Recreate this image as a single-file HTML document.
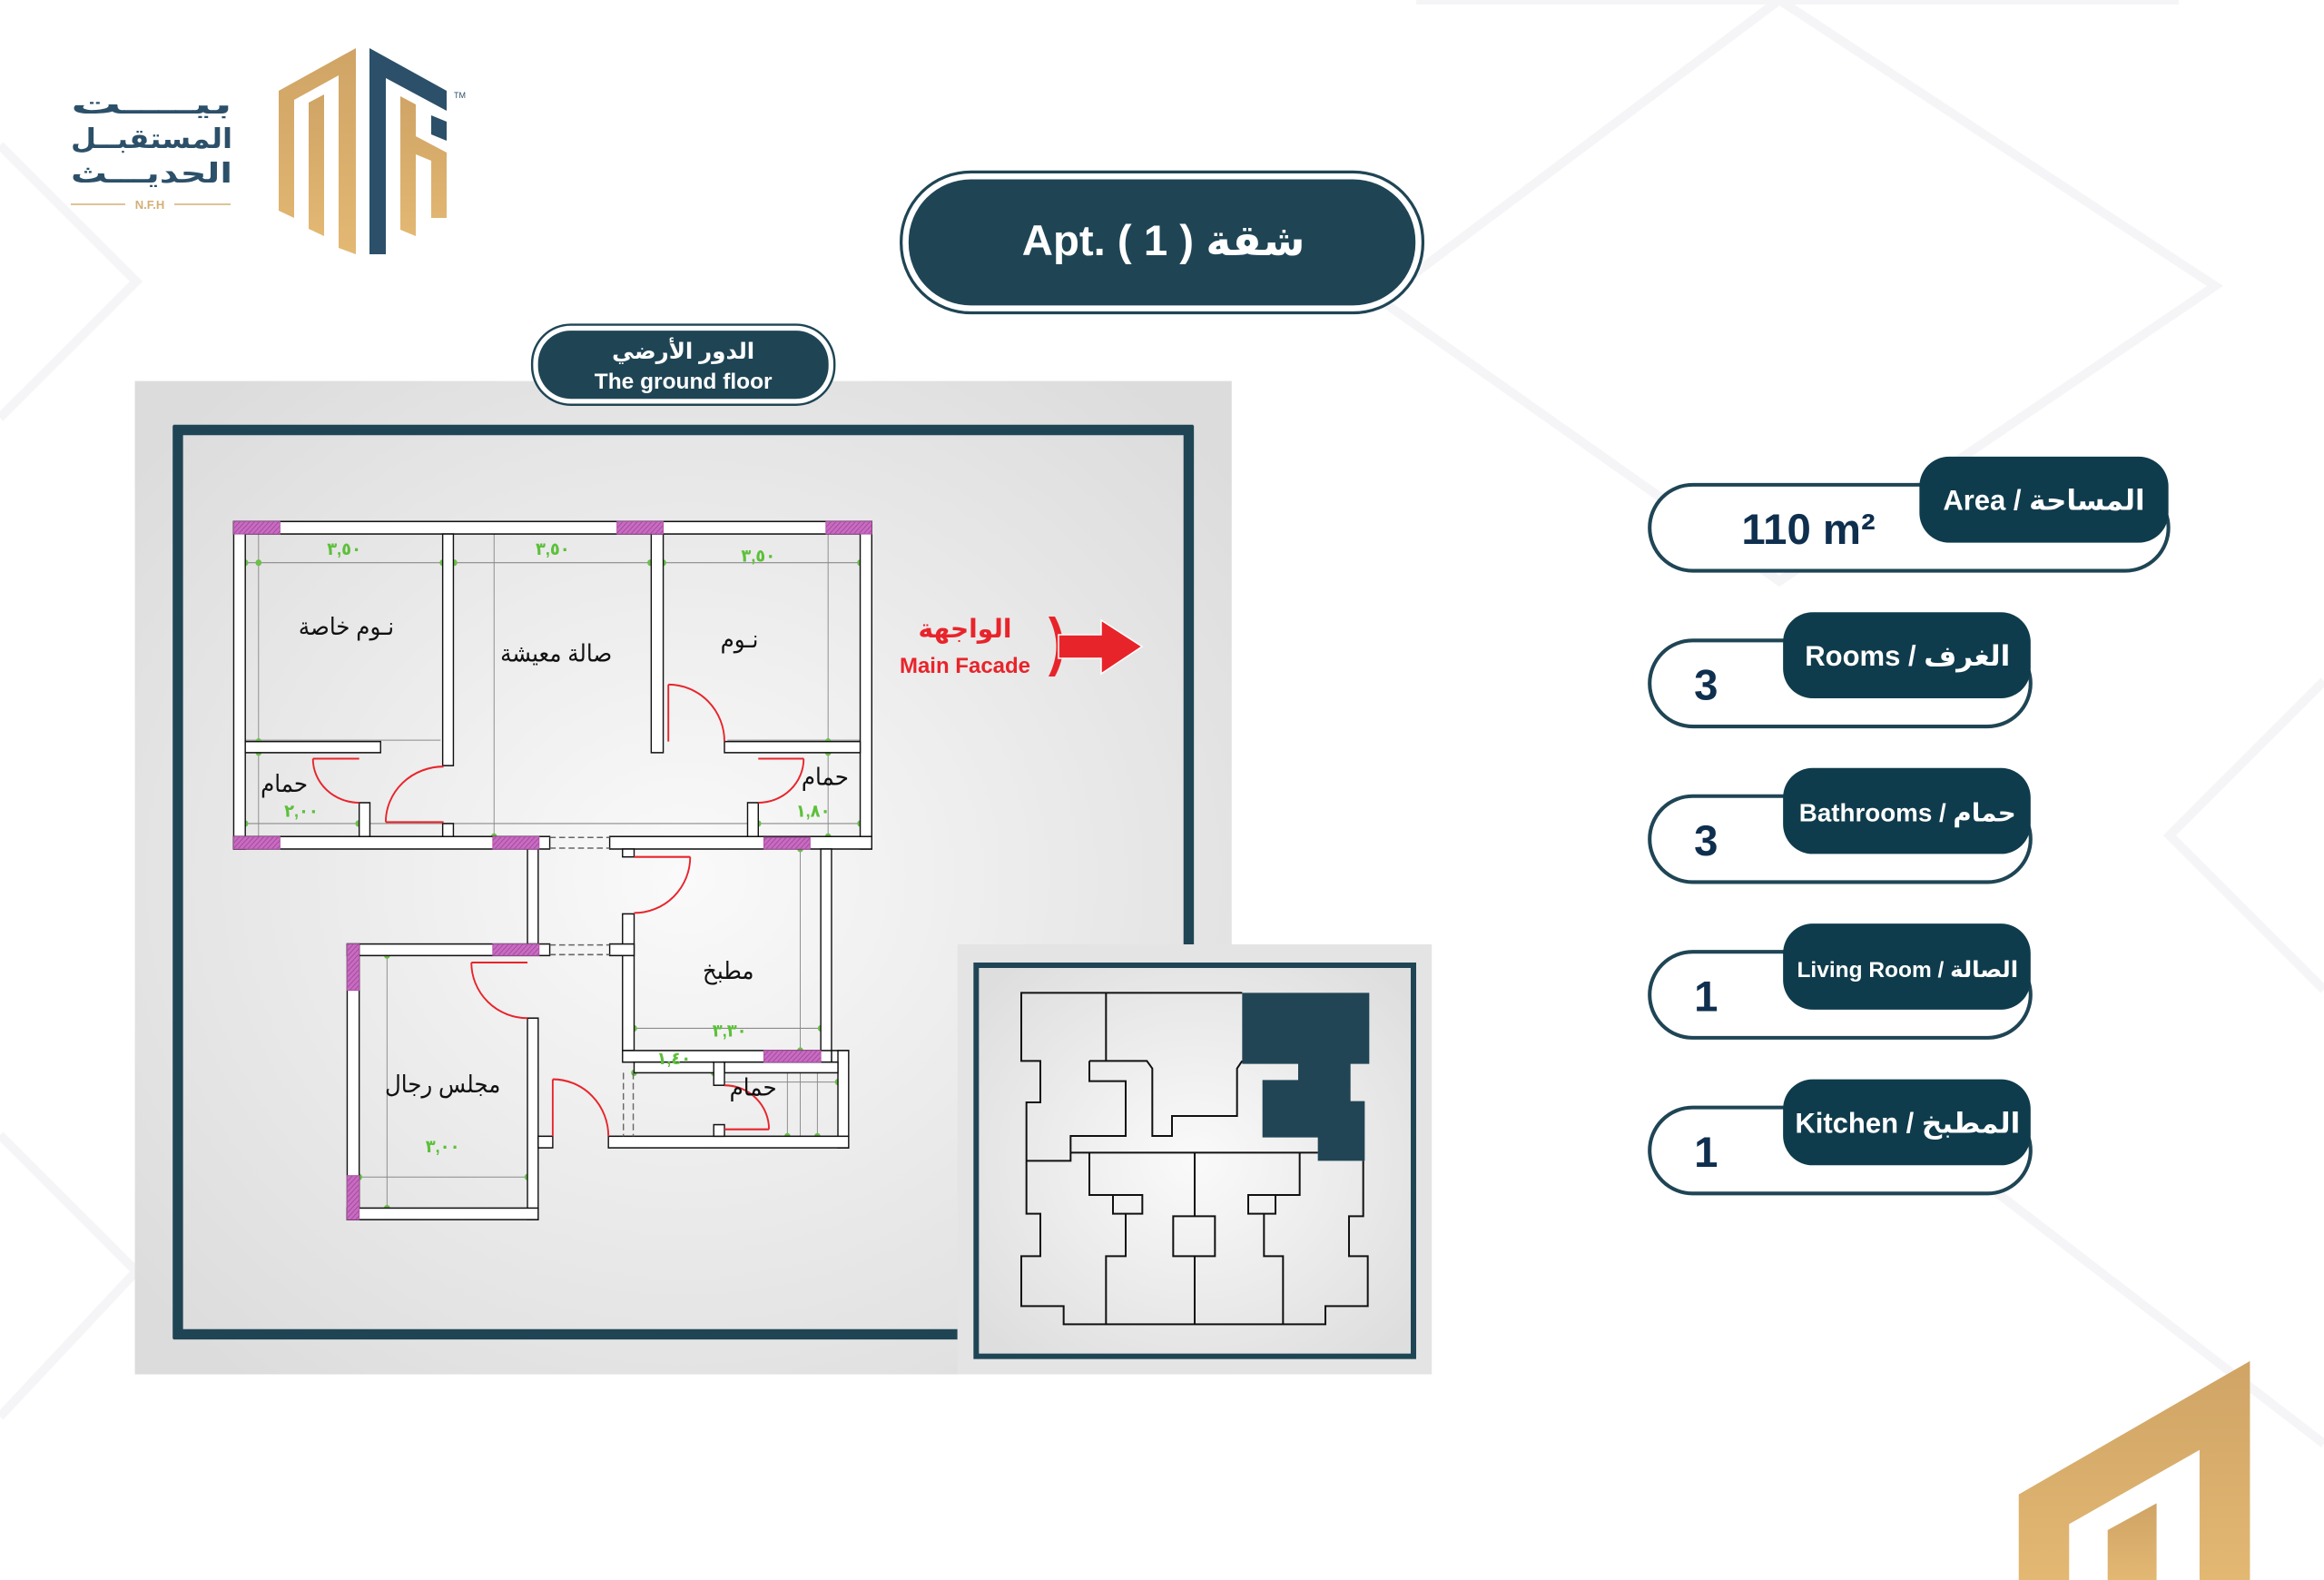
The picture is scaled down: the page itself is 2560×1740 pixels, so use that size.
<!DOCTYPE html>
<html><head><meta charset="utf-8"><style>
html,body{margin:0;padding:0;background:#fff;}
svg{display:block}
text{font-family:"Liberation Sans","Noto Sans CJK SC","DejaVu Sans",sans-serif;}
</style></head><body>
<svg width="2560" height="1740" viewBox="0 0 2560 1740" xmlns="http://www.w3.org/2000/svg">
<defs>
<radialGradient id="pg" cx="50%" cy="50%" r="65%"><stop offset="0" stop-color="#fafafa"/><stop offset="1" stop-color="#dcdcdc"/></radialGradient>
<radialGradient id="kg" cx="50%" cy="50%" r="65%"><stop offset="0" stop-color="#fafafa"/><stop offset="1" stop-color="#dedede"/></radialGradient>
<pattern id="hatch" width="8" height="8" patternUnits="userSpaceOnUse" patternTransform="rotate(45)"><rect width="8" height="8" fill="#c76cc0"/><line x1="0" y1="0" x2="0" y2="8" stroke="#9a3f95" stroke-width="3"/></pattern>
<linearGradient id="gold" x1="0" y1="0" x2="0" y2="1"><stop offset="0" stop-color="#cfa465"/><stop offset="1" stop-color="#e3b873"/></linearGradient>
</defs>
<rect width="2560" height="1740" fill="#fff"/>
<g stroke="#f5f5f7" stroke-width="10" fill="none">
<polyline points="0,160 150,310 0,460"/>
<polyline points="0,1250 150,1400 0,1560"/>
<polyline points="1960,0 2440,315 1960,640 1520,330 1960,0"/>
<polyline points="2560,750 2390,920 2560,1090"/>
<polyline points="1560,0 2400,0"/>
<line x1="2130" y1="1260" x2="2560" y2="1590"/>
</g>
<g transform="scale(1.6327)">
<rect x="608" y="116" width="352" height="95" rx="47" fill="#fff" stroke="#1f4555" stroke-width="2"/>
<rect x="613" y="121" width="342" height="85" rx="42" fill="#1f4555"/>
<text x="785" y="172" font-size="29" font-weight="bold" fill="#fff" text-anchor="middle" direction="ltr">Apt. ( 1 ) شقة</text>
<rect x="91" y="257" width="740" height="670" fill="url(#pg)"/>
<g stroke="#1f4555" stroke-width="7" fill="none">
<line x1="120" y1="287" x2="120" y2="903"/>
<line x1="117" y1="290" x2="805" y2="290"/>
<line x1="802" y1="287" x2="802" y2="637"/>
<line x1="117" y1="900" x2="646" y2="900"/>
</g>
<rect x="359" y="219" width="204" height="54" rx="26" fill="#fff" stroke="#1f4555" stroke-width="1.5"/>
<rect x="363" y="223" width="196" height="46" rx="22" fill="#1f4555"/>
<text x="461" y="242" font-size="15" font-weight="bold" fill="#fff" text-anchor="middle">الدور الأرضي</text>
<text x="461" y="262" font-size="15" font-weight="bold" fill="#fff" text-anchor="middle">The ground floor</text>
<rect x="646" y="637" width="320" height="290" fill="#e4e4e4"/>
<g fill="#fff" stroke="#1f4555" stroke-width="2.5">
<rect x="1113" y="327" width="350" height="58" rx="29"/>
<rect x="1113" y="432" width="257" height="58" rx="29"/>
<rect x="1113" y="537" width="257" height="58" rx="29"/>
<rect x="1113" y="642" width="257" height="58" rx="29"/>
<rect x="1113" y="747" width="257" height="58" rx="29"/>
</g>
<g fill="#0f3c4c">
<rect x="1295" y="308" width="168" height="58" rx="20"/>
<rect x="1203" y="413" width="167" height="58" rx="20"/>
<rect x="1203" y="518" width="167" height="58" rx="20"/>
<rect x="1203" y="623" width="167" height="58" rx="20"/>
<rect x="1203" y="728" width="167" height="58" rx="20"/>
</g>
<g fill="#fff" font-weight="bold" text-anchor="middle" direction="ltr">
<text x="1379" y="344" font-size="19">Area / المساحة</text>
<text x="1287" y="449" font-size="19">Rooms / الغرف</text>
<text x="1287" y="554" font-size="17">Bathrooms / حمام</text>
<text x="1287" y="659" font-size="15">Living Room / الصالة</text>
<text x="1287" y="764" font-size="19">Kitchen / المطبخ</text>
</g>
<g fill="#0f2f4f" font-weight="bold" font-size="29">
<text x="1175" y="367">110 m²</text>
<text x="1143" y="472">3</text>
<text x="1143" y="577">3</text>
<text x="1143" y="682">1</text>
<text x="1143" y="787">1</text>
</g>
<polygon points="1362,1066 1362,1008 1518,918 1518,1066" fill="url(#gold)"/>
<polygon points="1396,1066 1396,1028 1484,978 1484,1066" fill="#fff"/>
<polygon points="1422,1066 1422,1032 1455,1014 1455,1066" fill="url(#gold)"/>
</g>

<g>
<polygon points="307,100 392,53 392,280 373,273 373,83 324,110 324,240 307,232" fill="url(#gold)"/>
<polygon points="340,113 357,104 357,260 340,252" fill="url(#gold)"/>
<polygon points="407,53 492,100 492,122 425,86 425,280 407,280" fill="#2c5069"/>
<polygon points="475,127 492,134 492,155 475,148" fill="#2c5069"/>
<polygon points="441,106 458,115 458,150 492,168 492,240 475,240 475,177 458,170 458,260 441,253" fill="url(#gold)"/>
<text x="500" y="108" font-size="9" fill="#2c5069">TM</text>
<g fill="#2c5069" font-weight="bold" text-anchor="end" font-size="30">
<text x="256" y="125" textLength="178" lengthAdjust="spacingAndGlyphs">بيــــت</text>
<text x="256" y="163" textLength="178" lengthAdjust="spacingAndGlyphs">المستقبــل</text>
<text x="256" y="201" textLength="178" lengthAdjust="spacingAndGlyphs">الحديـــث</text>
</g>
<line x1="78" y1="225" x2="138" y2="225" stroke="#d4af77" stroke-width="1.5"/>
<line x1="192" y1="225" x2="254" y2="225" stroke="#d4af77" stroke-width="1.5"/>
<text x="165" y="230" font-size="13" font-weight="bold" fill="#d4af77" text-anchor="middle">N.F.H</text>
</g>

<text x="1063" y="702" font-size="28" font-weight="bold" fill="#e8242b" text-anchor="middle">الواجهة</text>
<text x="1063" y="741" font-size="24" font-weight="bold" fill="#e8242b" text-anchor="middle">Main Facade</text>
<path d="M1155,679 Q1172,712 1155,745 L1162,745 Q1180,712 1162,679 Z" fill="#e8242b"/>
<polygon points="1166,699 1213,699 1213,683 1258,712 1213,742 1213,725 1166,725" fill="#e8242b" stroke="#fff" stroke-width="1.5"/>

<g transform="translate(1060,1050) scale(0.33333)">
<rect x="46" y="39" width="1445" height="1292" fill="url(#kg)" stroke="#1f4555" stroke-width="18"/>
<polygon points="925,130 1345,130 1345,365 1283,365 1283,488 1330,488 1330,685 1175,685 1175,608 992,608 992,418 1110,418 1110,365 925,365" fill="#214555"/>
<g fill="none" stroke="#111" stroke-width="6">
<polyline points="925,130 195,130 195,355 258,355 258,492 212,492 212,860 258,860 258,1000 195,1000 195,1165 335,1165 335,1225 1200,1225 1200,1165 1340,1165 1340,1000 1278,1000 1278,868 1325,868 1325,685"/>
<polyline points="475,130 475,355"/>
<polyline points="420,355 610,355 628,380 628,603 693,603 693,537 908,537 908,380 925,355"/>
<polyline points="420,355 420,422 540,422 540,603 358,603 358,685 212,685"/>
<polyline points="358,658 1175,658"/>
<polyline points="420,658 420,798 595,798 595,860 498,860 498,798"/>
<polyline points="540,860 540,1000 475,1000 475,1225"/>
<polyline points="768,658 768,868 697,868 697,1000 835,1000 835,868 768,868"/>
<polyline points="768,1000 768,1225"/>
<polyline points="1115,658 1115,798 945,798 945,860 1035,860 1035,798"/>
<polyline points="997,860 997,1000 1060,1000 1060,1225"/>
</g>
</g>

<g transform="translate(240,560) scale(0.4717,0.5102)">
<g stroke="#8a8a8a" stroke-width="2" fill="none">
<line x1="37" y1="117" x2="1527" y2="117"/>
<line x1="37" y1="680" x2="1527" y2="680"/>
<line x1="95" y1="40" x2="95" y2="720"/>
<line x1="645" y1="40" x2="645" y2="720"/>
<line x1="1425" y1="40" x2="1425" y2="720"/>
<line x1="64" y1="500" x2="520" y2="500"/>
<line x1="64" y1="527" x2="330" y2="527"/>
<line x1="1190" y1="500" x2="1500" y2="500"/>
<line x1="1360" y1="730" x2="1360" y2="1360"/>
<line x1="945" y1="1122" x2="1433" y2="1122"/>
<line x1="330" y1="965" x2="723" y2="965"/>
<line x1="330" y1="1443" x2="723" y2="1443"/>
<line x1="395" y1="950" x2="395" y2="1520"/>
<line x1="972" y1="1218" x2="1448" y2="1218"/>
<line x1="1330" y1="1195" x2="1330" y2="1380"/>
<line x1="1400" y1="1195" x2="1400" y2="1380"/>
<line x1="1183" y1="1238" x2="1473" y2="1238"/>
</g>
<g fill="#6cc04a">
<circle cx="95" cy="117" r="7"/><circle cx="645" cy="50" r="7"/><circle cx="525" cy="117" r="7"/><circle cx="552" cy="117" r="7"/>
<circle cx="1010" cy="117" r="7"/><circle cx="1040" cy="117" r="7"/><circle cx="1500" cy="117" r="7"/><circle cx="64" cy="117" r="7"/>
<circle cx="95" cy="503" r="7"/><circle cx="95" cy="527" r="7"/><circle cx="64" cy="680" r="7"/><circle cx="328" cy="680" r="7"/>
<circle cx="1425" cy="503" r="7"/><circle cx="1425" cy="527" r="7"/><circle cx="1262" cy="680" r="7"/><circle cx="1500" cy="680" r="7"/>
<circle cx="645" cy="708" r="7"/><circle cx="1425" cy="708" r="7"/><circle cx="1360" cy="735" r="7"/><circle cx="972" cy="1122" r="7"/>
<circle cx="1408" cy="1122" r="7"/><circle cx="1360" cy="1170" r="7"/><circle cx="972" cy="1218" r="7"/><circle cx="1158" cy="1218" r="7"/>
<circle cx="1448" cy="1238" r="7"/><circle cx="1330" cy="1355" r="7"/><circle cx="1400" cy="1355" r="7"/><circle cx="395" cy="965" r="7"/>
<circle cx="723" cy="1443" r="7"/><circle cx="330" cy="1443" r="7"/><circle cx="395" cy="1510" r="7"/>
</g>
<g fill="#fff" stroke="#111" stroke-width="3">
<rect x="37" y="28" width="1490" height="27"/>
<rect x="37" y="28" width="27" height="707"/>
<rect x="1500" y="28" width="27" height="707"/>
<rect x="37" y="708" width="738" height="27"/>
<rect x="915" y="708" width="612" height="27"/>
<rect x="525" y="55" width="25" height="500"/>
<rect x="525" y="680" width="25" height="28"/>
<rect x="1012" y="55" width="28" height="472"/>
<rect x="64" y="503" width="316" height="24"/>
<rect x="330" y="635" width="25" height="73"/>
<rect x="1183" y="503" width="317" height="24"/>
<rect x="1237" y="635" width="25" height="73"/>
<rect x="723" y="735" width="25" height="205"/>
<rect x="723" y="1100" width="25" height="435"/>
<rect x="302" y="940" width="473" height="25"/>
<rect x="302" y="940" width="28" height="595"/>
<rect x="302" y="1510" width="446" height="25"/>
<rect x="945" y="735" width="27" height="17"/>
<rect x="945" y="875" width="27" height="295"/>
<rect x="915" y="940" width="57" height="25"/>
<rect x="1408" y="735" width="25" height="460"/>
<rect x="1433" y="1170" width="40" height="25"/>
<rect x="1448" y="1170" width="25" height="210"/>
<rect x="912" y="1355" width="561" height="25"/>
<rect x="748" y="1355" width="34" height="25"/>
<rect x="945" y="1170" width="488" height="25"/>
<rect x="972" y="1195" width="186" height="23"/>
<rect x="1183" y="1195" width="265" height="23"/>
<rect x="1158" y="1195" width="25" height="50"/>
<rect x="1158" y="1330" width="25" height="25"/>
</g>
<g stroke="#666" stroke-width="3" stroke-dasharray="14,8">
<line x1="775" y1="710" x2="915" y2="710"/><line x1="775" y1="733" x2="915" y2="733"/>
<line x1="775" y1="942" x2="915" y2="942"/><line x1="775" y1="963" x2="915" y2="963"/>
<line x1="947" y1="1218" x2="947" y2="1355"/><line x1="970" y1="1218" x2="970" y2="1355"/>
</g>
<g fill="url(#hatch)" stroke="#b050a8" stroke-width="2">
<rect x="37" y="28" width="108" height="27"/><rect x="932" y="28" width="108" height="27"/><rect x="1420" y="28" width="107" height="27"/>
<rect x="37" y="708" width="108" height="27"/><rect x="642" y="708" width="108" height="27"/><rect x="1275" y="710" width="108" height="25"/>
<rect x="302" y="940" width="28" height="100"/><rect x="302" y="1440" width="28" height="95"/><rect x="642" y="940" width="108" height="25"/>
<rect x="1275" y="1170" width="133" height="25"/>
</g>
<g fill="none" stroke="#e8242b" stroke-width="4">
<line x1="222" y1="540" x2="330" y2="540"/><path d="M222,540 A108 95 0 0 0 330,635"/>
<line x1="392" y1="677" x2="527" y2="677"/><path d="M392,677 A135 120 0 0 1 527,557"/>
<line x1="1052" y1="380" x2="1052" y2="503"/><path d="M1052,380 A131 123 0 0 1 1183,503"/>
<line x1="1262" y1="540" x2="1368" y2="540"/><path d="M1368,540 A106 95 0 0 1 1262,635"/>
<line x1="972" y1="752" x2="1103" y2="752"/><path d="M1103,752 A131 121 0 0 1 972,873"/>
<line x1="592" y1="980" x2="723" y2="980"/><path d="M592,980 A131 120 0 0 0 723,1100"/>
<line x1="782" y1="1232" x2="782" y2="1355"/><path d="M782,1232 A130 123 0 0 1 912,1355"/>
<line x1="1183" y1="1340" x2="1287" y2="1340"/><path d="M1287,1340 A104 95 0 0 0 1183,1245"/>
</g>
<g fill="#111" font-size="52" text-anchor="middle">
<text x="300" y="272">نـوم خاصة</text>
<text x="790" y="330">صالة  معيشة</text>
<text x="1218" y="300">نـوم</text>
<text x="155" y="612">حمام</text>
<text x="1418" y="597">حمام</text>
<text x="1192" y="1015">مطبخ</text>
<text x="525" y="1260">مجلس رجال</text>
<text x="1250" y="1267">حمام</text>
</g>
<g fill="#5cc03a" font-size="38" text-anchor="middle" font-weight="bold">
<text x="295" y="100">٣,٥٠</text>
<text x="782" y="100">٣,٥٠</text>
<text x="1262" y="115">٣,٥٠</text>
<text x="195" y="665">٢,٠٠</text>
<text x="1195" y="1140">٣,٣٠</text>
<text x="525" y="1390">٣,٠٠</text>
<text x="1065" y="1200">١,٤٠</text>
<text x="1390" y="665">١,٨٠</text>
</g>
</g>
</svg>
</body></html>
